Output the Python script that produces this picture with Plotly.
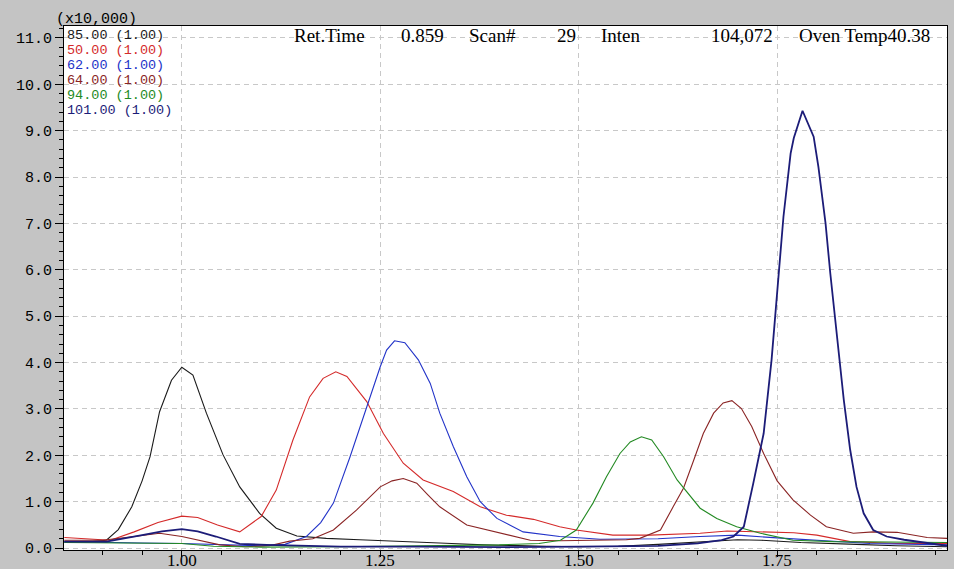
import plotly.graph_objects as go

# ---- data (intensity in units of 10,000) ----
t_85 = [0.852, 0.880, 0.905, 0.920, 0.937, 0.950, 0.960, 0.972, 0.987, 1.000, 1.014, 1.031, 1.052, 1.073,
        1.098, 1.119, 1.145, 1.182, 1.224, 1.260, 1.300, 1.340, 1.380, 1.420, 1.460, 1.500, 1.550, 1.600,
        1.650, 1.700, 1.730, 1.780, 1.850, 1.900, 1.964]
v_85 = [0.13, 0.13, 0.17, 0.40, 0.89, 1.45, 1.97, 2.94, 3.62, 3.90, 3.73, 2.91, 2.01, 1.32,
        0.75, 0.43, 0.26, 0.21, 0.18, 0.16, 0.13, 0.10, 0.07, 0.05, 0.04, 0.03, 0.04, 0.08,
        0.13, 0.18, 0.17, 0.12, 0.08, 0.05, 0.03]

t_50 = [0.852, 0.880, 0.910, 0.940, 0.970, 1.000, 1.020, 1.045, 1.073, 1.100, 1.119, 1.140, 1.161, 1.178,
        1.194, 1.208, 1.233, 1.254, 1.279, 1.304, 1.342, 1.376, 1.409, 1.443, 1.476, 1.497, 1.543, 1.590,
        1.653, 1.687, 1.730, 1.771, 1.800, 1.842, 1.900, 1.964]
v_50 = [0.23, 0.20, 0.17, 0.35, 0.55, 0.69, 0.66, 0.50, 0.35, 0.68, 1.25, 2.33, 3.26, 3.66,
        3.80, 3.70, 3.16, 2.47, 1.83, 1.47, 1.22, 0.89, 0.71, 0.62, 0.46, 0.39, 0.28, 0.28,
        0.32, 0.37, 0.35, 0.33, 0.28, 0.14, 0.10, 0.10]

t_62 = [0.852, 0.900, 0.950, 1.000, 1.050, 1.100, 1.130, 1.157, 1.175, 1.191, 1.212, 1.233, 1.250, 1.258,
        1.268, 1.281, 1.298, 1.313, 1.325, 1.342, 1.359, 1.376, 1.397, 1.430, 1.476, 1.527, 1.600, 1.653,
        1.700, 1.750, 1.800, 1.867, 1.964]
v_62 = [0.14, 0.12, 0.11, 0.10, 0.07, 0.05, 0.08, 0.25, 0.55, 0.97, 1.97, 3.05, 3.91, 4.27,
        4.47, 4.43, 4.06, 3.55, 2.91, 2.19, 1.54, 1.00, 0.64, 0.35, 0.25, 0.19, 0.20, 0.25,
        0.28, 0.22, 0.17, 0.10, 0.07]

t_64 = [0.852, 0.900, 0.940, 0.972, 1.000, 1.048, 1.080, 1.110, 1.136, 1.165, 1.191, 1.220, 1.250, 1.265,
        1.279, 1.296, 1.310, 1.325, 1.359, 1.401, 1.439, 1.476, 1.520, 1.560, 1.577, 1.603, 1.619, 1.632,
        1.645, 1.657, 1.670, 1.682, 1.693, 1.705, 1.718, 1.733, 1.750, 1.770, 1.792, 1.812, 1.846, 1.871,
        1.901, 1.939, 1.964]
v_64 = [0.17, 0.17, 0.25, 0.32, 0.25, 0.07, 0.03, 0.05, 0.15, 0.20, 0.39, 0.82, 1.32, 1.45,
        1.50, 1.40, 1.15, 0.89, 0.50, 0.32, 0.17, 0.16, 0.17, 0.18, 0.21, 0.39, 0.89, 1.29,
        1.90, 2.47, 2.91, 3.13, 3.18, 3.01, 2.62, 2.04, 1.45, 1.04, 0.71, 0.46, 0.32, 0.35,
        0.34, 0.23, 0.21]

t_94 = [0.852, 0.900, 0.950, 1.000, 1.040, 1.100, 1.200, 1.300, 1.400, 1.450, 1.477, 1.497, 1.518, 1.535,
        1.552, 1.565, 1.579, 1.592, 1.607, 1.624, 1.653, 1.674, 1.699, 1.729, 1.770, 1.821, 1.900, 1.964]
v_94 = [0.12, 0.11, 0.10, 0.10, 0.04, 0.02, 0.03, 0.05, 0.07, 0.10, 0.17, 0.39, 0.97, 1.54,
        2.04, 2.29, 2.40, 2.33, 1.97, 1.47, 0.86, 0.64, 0.46, 0.32, 0.17, 0.14, 0.13, 0.12]

t_101 = [0.852, 0.905, 0.950, 0.975, 1.000, 1.020, 1.043, 1.073, 1.107, 1.200, 1.300, 1.400, 1.500, 1.600,
         1.650, 1.680, 1.695, 1.708, 1.720, 1.733, 1.743, 1.752, 1.758, 1.767, 1.771, 1.782, 1.796, 1.802,
         1.811, 1.817, 1.826, 1.834, 1.842, 1.850, 1.859, 1.871, 1.888, 1.910, 1.964]
v_101 = [0.14, 0.14, 0.28, 0.36, 0.41, 0.36, 0.25, 0.09, 0.07, 0.03, 0.03, 0.02, 0.03, 0.05,
         0.10, 0.17, 0.25, 0.46, 1.40, 2.47, 4.06, 5.92, 7.15, 8.51, 8.84, 9.43, 8.87, 8.22,
         7.00, 5.92, 4.49, 3.19, 2.12, 1.32, 0.75, 0.39, 0.25, 0.18, 0.05]

legend_labels = ["85.00 (1.00)", "50.00 (1.00)", "62.00 (1.00)", "64.00 (1.00)", "94.00 (1.00)", "101.00 (1.00)"]
header_items = ["Ret.Time", "0.859", "Scan#", "29", "Inten", "104,072", "Oven Temp40.38"]
x_tickvals = [1.00, 1.25, 1.50, 1.75]

colors = ["#1a1a1a", "#d42a2a", "#2233c8", "#8a2424", "#238a23", "#1c1c78"]
widths = [1.1, 1.1, 1.1, 1.1, 1.1, 1.8]
series = [(t_85, v_85), (t_50, v_50), (t_62, v_62), (t_64, v_64), (t_94, v_94), (t_101, v_101)]

fig = go.Figure()
for (t, v), c, w, name in zip(series, colors, widths, legend_labels):
    fig.add_trace(go.Scatter(x=t, y=v, mode="lines", line=dict(color=c, width=w), name=name,
                             showlegend=False, hoverinfo="skip"))

W, H = 954, 569
L, R, T, B = 64, 947, 26, 550

def px(xp):
    return (xp - L) / (R - L)

def py(yp):
    return (B - yp) / (B - T)

mono = "Liberation Mono"
serif = "Liberation Serif"
ann = []
# legend text
leg_y = [36, 50.8, 65.6, 80.4, 95.2, 110]
for lab, c, yy in zip(legend_labels, colors, leg_y):
    ann.append(dict(text=lab, x=px(65), y=py(yy), xref="paper", yref="paper", xanchor="left",
                    yanchor="middle", showarrow=False, font=dict(family=mono, size=13.5, color=c)))
# header texts (left x or right x, anchor)
header_pos = [(292, "left"), (446, "right"), (467, "left"), (578, "right"), (599, "left"),
              (775, "right"), (797, "left")]
for txt, (xx, anc) in zip(header_items, header_pos):
    ann.append(dict(text=txt, x=px(xx), y=py(36), xref="paper", yref="paper", xanchor=anc,
                    yanchor="middle", showarrow=False, font=dict(family=serif, size=19, color="black")))
ann.append(dict(text="(x10,000)", x=px(54), y=py(19), xref="paper", yref="paper", xanchor="left",
                yanchor="middle", showarrow=False, font=dict(family=mono, size=15, color="black")))
# x tick labels placed on the x axis scale, just below the axis
for tv in x_tickvals:
    ann.append(dict(text=f"{tv:.2f}", x=tv, xref="x", y=py(560), yref="paper", xanchor="center",
                    yanchor="middle", showarrow=False, font=dict(family=serif, size=17, color="black")))

ymin = -(B - 548.1) / 46.38
ymax = (548.1 - T) / 46.38

fig.update_layout(
    width=W, height=H,
    margin=dict(l=L, r=W - R, t=T, b=H - B, pad=0, autoexpand=False),
    paper_bgcolor="#c4c4c4", plot_bgcolor="white",
    annotations=ann,
    xaxis=dict(range=[0.8516, 1.964], tickvals=x_tickvals, showticklabels=False,
               ticks="outside", ticklen=6, tickcolor="black", automargin=False,
               minor=dict(dtick=0.05, tick0=1.0, ticks="outside", ticklen=4, tickcolor="black", showgrid=False),
               showgrid=True, gridcolor="#c8c8c8", griddash="5px,4px", gridwidth=1,
               showline=True, linecolor="black", linewidth=1, mirror=True, zeroline=False),
    yaxis=dict(range=[ymin, ymax], tick0=0, dtick=1.0, tickformat=".1f",
               ticks="outside", ticklen=8, tickcolor="black", automargin=False,
               minor=dict(dtick=0.2, tick0=0, ticks="outside", ticklen=4, tickcolor="black", showgrid=False),
               showgrid=True, gridcolor="#c8c8c8", griddash="5px,4px", gridwidth=1,
               showline=True, linecolor="black", linewidth=1, mirror=True, zeroline=False,
               tickfont=dict(family=mono, size=15, color="black")),
)

fig.write_html("out.html", config={"displayModeBar": False},
               post_script="document.body.style.margin='0';document.body.style.overflow='hidden';")
